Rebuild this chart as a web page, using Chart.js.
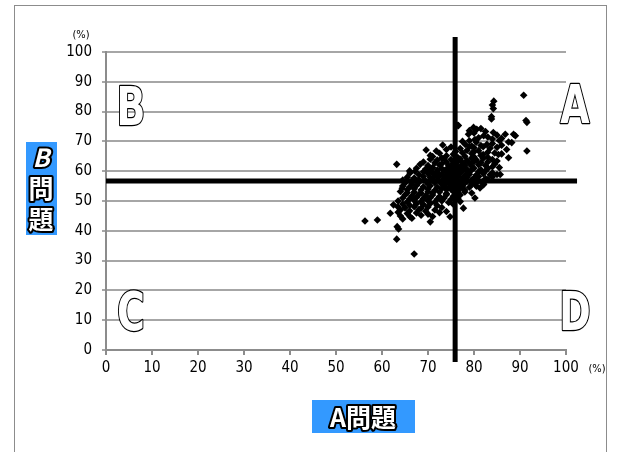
<!DOCTYPE html>
<html>
<head>
<meta charset="utf-8">
<script src="https://cdn.jsdelivr.net/npm/chart.js@4/dist/chart.umd.min.js"></script>
<style>
html, body { margin: 0; padding: 0; background: #fff; }
</style>
</head>
<body>
<canvas id="chart" width="618" height="452"></canvas>
<script>
// each pair: [A問題 %, B問題 %]
var scores = [
    [76.5,75.4],[79.9,74.7],[80.6,74.1],[79.0,73.6],[81.5,74.3],
    [84.2,73.0],[80.0,72.8],[86.8,72.4],[82.5,73.3],
    [78.8,72.4],[82.1,71.9],[88.6,72.4],[83.0,71.5],[85.0,72.1],[89.0,71.9],
    [81.0,71.2],[84.0,70.8],[86.0,71.0],[80.2,70.6],
    [79.0,70.2],[80.5,69.7],[82.8,69.0],[85.5,70.3],[87.5,69.8],[77.5,70.0],[88.2,69.6],
    [73.2,68.8],[78.1,69.0],[81.5,68.6],[84.0,69.3],[79.5,68.4],[86.0,68.7],
    [75.0,68.1],[77.0,67.6],[80.0,67.9],[82.0,68.2],[83.5,67.7],[85.0,68.0],[79.0,68.3],
    [69.6,67.1],[71.8,66.8],[74.0,67.3],[76.0,66.6],[78.5,67.0],[81.0,66.9],[83.0,66.4],[87.1,67.3],[80.0,66.5],[91.5,66.8],
    [72.5,66.0],[75.5,65.7],[77.5,66.2],[79.5,65.9],[82.0,65.6],[84.5,66.1],[86.0,65.8],[70.5,65.3],
    [71.0,64.9],[74.0,65.2],[76.5,64.6],[78.0,65.0],[80.0,64.8],[81.5,65.3],[83.0,64.7],[85.3,65.6],[73.0,64.4],
    [70.5,64.0],[72.0,63.7],[73.5,64.2],[75.0,63.9],[77.0,64.1],[78.5,63.6],[80.5,63.8],[82.0,64.3],[84.0,63.9],[87.5,64.5],[79.5,64.4],[85.0,63.4],
    [69.0,63.1],[71.5,62.8],[74.0,63.0],[75.5,62.6],[76.5,63.3],[77.5,62.9],[79.0,62.7],[80.0,63.2],[81.5,62.8],[83.0,63.1],[73.0,62.5],[84.5,62.4],
    [63.2,62.3],[68.3,62.3],[70.0,61.9],[72.5,62.1],[74.5,61.8],[76.0,62.2],[77.0,61.6],[78.0,62.0],[79.5,61.7],[81.0,62.2],[82.5,61.9],[84.0,61.5],[75.5,61.4],
    [67.5,61.0],[69.5,60.7],[71.0,61.2],[73.0,60.9],[74.0,60.6],[75.0,61.1],[76.5,60.8],[77.5,61.3],[78.5,60.6],[80.0,61.0],[81.5,60.5],[83.0,60.9],[85.5,61.2],[72.0,60.4],
    [66.0,60.1],[67.2,60.0],[69.0,59.8],[70.5,60.3],[72.0,59.7],[73.5,60.2],[74.5,59.6],[75.5,60.0],[76.5,59.7],[77.5,60.2],[78.5,59.9],[79.5,60.4],[81.0,59.8],[82.5,60.1],[84.0,59.5],[71.0,59.5],
    [66.1,59.4],[68.0,58.9],[70.0,59.2],[71.5,58.7],[73.0,59.0],[74.0,58.6],[75.0,59.1],[76.0,58.8],[77.0,59.3],[78.0,58.5],[79.0,59.0],[80.5,58.7],[82.0,59.2],[83.5,58.8],[85.0,58.9],[85.7,58.9],[72.5,58.4],
    [65.5,58.0],[67.0,57.7],[69.0,58.2],[70.5,57.9],[72.0,58.1],[73.5,57.6],[74.5,58.0],[75.5,57.8],[76.5,58.3],[77.5,57.6],[78.5,58.0],[80.0,57.7],[81.0,58.2],[82.5,57.5],[84.0,58.1],[71.0,57.4],
    [64.5,57.0],[66.5,56.8],[68.0,57.2],[69.5,56.7],[71.0,57.1],[72.5,56.6],[73.5,57.0],[74.5,56.5],[75.5,57.2],[76.5,56.9],[77.5,57.1],[78.5,56.6],[79.5,57.0],[81.0,56.7],[83.0,57.2],
    [65.0,56.0],[66.5,55.7],[68.0,56.2],[70.0,55.8],[71.5,56.1],[73.0,55.6],[74.0,56.0],[75.0,55.5],[76.0,56.2],[77.0,55.7],[78.0,56.0],[79.5,55.6],[80.5,56.1],[82.0,55.9],
    [64.5,55.0],[66.0,54.7],[67.5,55.2],[69.0,54.8],[70.5,55.1],[72.0,54.6],[73.5,55.0],[74.5,54.5],[75.5,55.2],[76.5,54.8],[77.5,55.0],[79.0,54.6],[80.5,55.0],[82.1,55.5],
    [64.4,54.3],[65.5,53.8],[67.0,54.1],[68.5,53.7],[70.0,54.0],[71.5,53.6],[73.0,54.2],[74.0,53.8],[75.0,54.0],[76.0,53.5],[77.0,54.1],[78.0,53.7],[81.3,54.4],
    [64.0,53.2],[65.5,52.8],[67.0,53.0],[68.5,52.6],[70.0,53.1],[71.0,52.7],[72.5,53.0],[74.0,52.5],[75.5,53.2],[76.5,52.8],[78.0,53.0],[79.5,52.7],
    [65.0,52.0],[66.5,51.7],[68.0,52.2],[69.5,51.8],[71.0,52.0],[72.5,51.5],[74.0,52.1],[75.5,51.6],[77.0,52.0],[80.2,51.0],
    [64.5,51.0],[66.0,50.7],[67.5,51.2],[69.0,50.8],[70.5,51.1],[72.0,50.6],[73.5,51.0],[75.0,50.5],[76.5,50.9],
    [63.5,50.0],[65.5,49.7],[67.0,50.2],[68.5,49.8],[70.0,50.1],[71.5,49.6],[73.0,50.0],[74.5,49.5],[77.0,49.8],
    [62.5,48.7],[64.5,49.0],[66.0,48.6],[67.5,49.1],[69.0,48.8],[70.5,49.2],[72.0,48.5],[75.5,48.9],
    [63.5,48.0],[65.0,47.7],[67.0,48.1],[68.5,47.6],[70.0,48.0],[73.0,47.8],[77.7,47.6],
    [64.0,47.0],[66.0,46.7],[68.0,47.1],[69.5,46.6],[71.5,47.0],[74.0,46.5],
    [61.8,45.9],[63.5,46.2],[65.5,45.8],[67.5,46.0],[70.0,45.6],[72.5,46.1],
    [64.0,45.0],[66.1,44.7],[68.5,45.2],[71.0,44.8],
    [64.5,44.0],[66.5,44.2],[70.5,43.0],[74.8,44.7],
    [56.3,43.3],[59.0,43.6],[63.3,41.4],[63.6,40.6],[63.2,37.2],[67.0,32.2],
    [90.8,85.5],[84.3,83.5],[84.0,82.2],[84.2,81.0],[83.8,78.3],[83.8,77.5],[91.3,77.0],[91.5,76.4],[76.6,75.3]
];

var tickValues = [0, 10, 20, 30, 40, 50, 60, 70, 80, 90, 100];
var borderA = 75.9;   // 縦線 (A問題)
var borderB = 56.7;   // 横線 (B問題)
var vLineRange = [-4, 105];
var hLineRange = [0, 102.4];
var titleX = "A問題";
var titleY = ["B", "問", "題"];
var unitLabel = "(%)";

var narrowFont = '"Liberation Sans Narrow", "DejaVu Sans Condensed", sans-serif';
var tickFont = {family: narrowFont, size: 15};

function outlinedText(ctx, text, x, y)
{
    ctx.strokeText(text, x, y);
    ctx.fillText(text, x, y);
}

var decorations = {
    id: "decorations",
    beforeDraw(chart) {
        const ctx = chart.ctx;
        ctx.save();
        ctx.fillStyle = "#fff";
        ctx.fillRect(0, 0, chart.width, chart.height);
        ctx.strokeStyle = "#8c8c8c";
        ctx.lineWidth = 1;
        ctx.strokeRect(14.5, 5.5, 592, 470);
        ctx.restore();
    },
    afterDraw(chart) {
        const ctx = chart.ctx;
        const area = chart.chartArea;
        ctx.save();

        // quadrant letters
        ctx.font = "bold 54px " + narrowFont;
        ctx.textAlign = "center";
        ctx.textBaseline = "alphabetic";
        ctx.lineJoin = "round";
        ctx.lineWidth = 2.4;
        ctx.strokeStyle = "#000";
        ctx.fillStyle = "#fff";
        const spots = [
            ["A", area.right + 9, area.top + 71],
            ["B", area.left + 25, area.top + 73],
            ["C", area.left + 25, area.bottom - 20],
            ["D", area.right + 9, area.bottom - 20]
        ];
        spots.forEach(s => {
            ctx.save();
            ctx.translate(s[1], s[2]);
            ctx.scale(0.78, 1);
            outlinedText(ctx, s[0], 0, 0);
            ctx.restore();
        });

        // (%) units
        ctx.font = "11px " + narrowFont;
        ctx.fillStyle = "#000";
        ctx.fillText(unitLabel, area.left - 25, area.top - 14);
        ctx.fillText(unitLabel, area.right + 31, area.bottom + 22);

        // x title
        ctx.fillStyle = "#3399ff";
        ctx.fillRect(312, 400, 103, 33);
        ctx.font = 'bold 25px "Noto Sans CJK JP", sans-serif';
        ctx.textBaseline = "middle";
        ctx.lineWidth = 4;
        ctx.strokeStyle = "#000";
        ctx.fillStyle = "#fff";
        outlinedText(ctx, titleX, 363, 417);

        // y title
        ctx.fillStyle = "#3399ff";
        ctx.fillRect(26, 142, 31, 93);
        ctx.fillStyle = "#fff";
        ctx.font = 'bold italic 25px "Noto Sans CJK JP", sans-serif';
        outlinedText(ctx, titleY[0], 41, 157);
        ctx.font = 'bold 25px "Noto Sans CJK JP", sans-serif';
        outlinedText(ctx, titleY[1], 41, 188);
        outlinedText(ctx, titleY[2], 41, 219);

        ctx.restore();
    }
};

var ctx = document.getElementById("chart").getContext("2d");
var chart = new Chart(ctx, {
    type: "scatter",
    data: {
        datasets: [
            {
                data: [{x: borderA, y: vLineRange[0]}, {x: borderA, y: vLineRange[1]}],
                showLine: true, borderColor: "#000", borderWidth: 5, pointRadius: 0, clip: false, order: 0
            },
            {
                data: [{x: hLineRange[0], y: borderB}, {x: hLineRange[1], y: borderB}],
                showLine: true, borderColor: "#000", borderWidth: 5, pointRadius: 0, clip: false, order: 0
            },
            {
                data: scores.map(s => ({x: s[0], y: s[1]})),
                pointStyle: "rectRot", pointRadius: 3.8, backgroundColor: "#000",
                borderWidth: 0, pointHoverRadius: 3.8, order: 1
            }
        ]
    },
    options: {
        responsive: false,
        animation: false,
        devicePixelRatio: 1,
        layout: {padding: {left: 0, right: 52, top: 52, bottom: 72}},
        plugins: {legend: {display: false}, tooltip: {enabled: false}},
        scales: {
            x: {
                min: 0, max: 100,
                afterBuildTicks: s => { s.ticks = tickValues.map(v => ({value: v})); },
                afterFit: s => { s.height = 30; },
                ticks: {font: tickFont, color: "#000", padding: 4, maxRotation: 0},
                grid: {drawOnChartArea: false, color: "#8c8c8c", lineWidth: 2, tickLength: 5},
                border: {color: "#8c8c8c", width: 2}
            },
            y: {
                min: 0, max: 100,
                afterBuildTicks: s => { s.ticks = tickValues.map(v => ({value: v})); },
                afterFit: s => { s.width = 106; },
                ticks: {font: tickFont, color: "#000", padding: 10},
                grid: {color: "#a6a6a6", lineWidth: 2, tickLength: 4},
                border: {color: "#8c8c8c", width: 2}
            }
        }
    },
    plugins: [decorations]
});
</script>
</body>
</html>
